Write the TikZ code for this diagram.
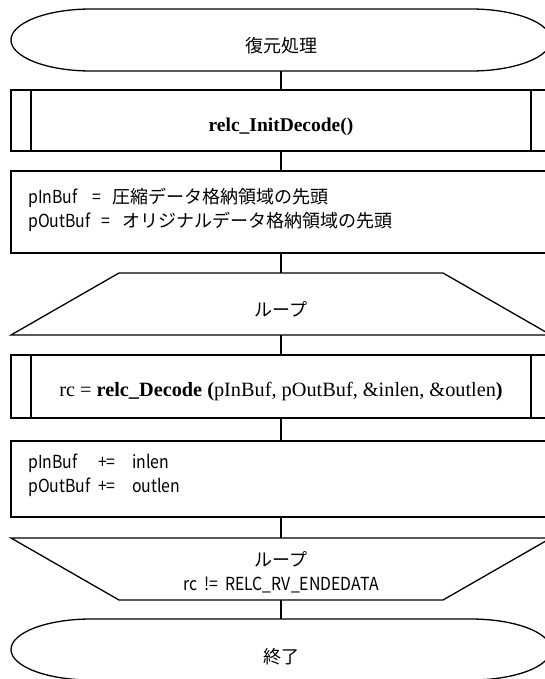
\documentclass[tikz,border=0pt]{standalone}
\usepackage{fontspec}
\setmainfont{Liberation Serif}
\newfontfamily\jpf{Noto Sans CJK JP}
\newfontfamily\jpl{Noto Sans CJK JP}[FakeStretch=0.88]
\usetikzlibrary{calc}
\begin{document}
\begin{tikzpicture}[x=1pt,y=-1pt,
  outl/.style={line width=1.3pt, line join=miter},
  frame/.style={minimum width=540pt, inner sep=0pt, outer sep=0pt, draw=none},
  boxed/.style={frame, draw, line width=1.3pt},
  gtext/.style={font=\jpf\fontsize{18}{24}\selectfont, inner sep=0pt},
  stext/.style={font=\fontsize{19.5}{22}\selectfont, inner sep=0pt},
  conn/.style={line width=1.3pt}]
\useasboundingbox (0,0) rectangle (545,679);
\clip (0,0) rectangle (545,679);

% start terminal
\node[frame, minimum height=62pt] (start) at (281,40) {};
\draw[outl] ($(start.north west)+(80,0)$) arc[start angle=-90, end angle=-270, x radius=80, y radius=31]
  -- ($(start.south east)+(-80,0)$) arc[start angle=90, end angle=-90, x radius=80, y radius=31] -- cycle;
\node[gtext] (startT) at ($(start.center)+(0,6)$) {復元処理};

% init (predefined process)
\node[boxed, minimum height=61pt] (init) at (281,120.5) {};
\draw[outl] ($(init.north west)+(20,0)$) -- ($(init.south west)+(20,0)$);
\draw[outl] ($(init.north east)+(-20,0)$) -- ($(init.south east)+(-20,0)$);
\node[stext] (initT) at ($(init.center)+(0,6)$) {\textbf{relc\_InitDecode()}};

% set pointers
\node[boxed, minimum height=82pt] (setp) at (281,212) {};
\node[gtext, anchor=north west, align=left] (setpT) at ($(setp.north west)+(17,17)$)
  {\makebox[64pt][l]{\jpl pInBuf}\makebox[20pt][l]{\jpl =}圧縮データ格納領域の先頭\\
   \makebox[73pt][l]{\jpl pOutBuf}\makebox[21pt][l]{\jpl =}オリジナルデータ格納領域の先頭};

% loop start
\node[frame, minimum height=62pt] (loopA) at (281,304) {};
\draw[outl] ($(loopA.north west)+(108,0)$) -- ($(loopA.north east)+(-108,0)$)
  -- (loopA.south east) -- (loopA.south west) -- cycle;
\node[gtext] (loopAT) at ($(loopA.center)+(0,5)$) {ループ};

% decode (predefined process)
\node[boxed, minimum height=63pt] (dec) at (281,386.5) {};
\draw[outl] ($(dec.north west)+(20,0)$) -- ($(dec.south west)+(20,0)$);
\draw[outl] ($(dec.north east)+(-20,0)$) -- ($(dec.south east)+(-20,0)$);
\node[stext, font=\fontsize{20.3}{22}\selectfont] (decT) at ($(dec.center)+(0,5)$)
  {rc = \textbf{relc\_Decode (}pInBuf, pOutBuf, \&inlen, \&outlen\textbf{)}};

% advance pointers
\node[boxed, minimum height=76pt] (adv) at (281,479) {};
\node[gtext, anchor=north west, align=left] (advT) at ($(adv.north west)+(17,13)$)
  {\jpl\makebox[70pt][l]{pInBuf}\makebox[34pt][l]{+=}inlen\\
   \jpl\makebox[70pt][l]{pOutBuf}\makebox[34pt][l]{+=}outlen};

% loop end
\node[frame, minimum height=62pt] (loopB) at (281,569) {};
\draw[outl] (loopB.north west) -- (loopB.north east)
  -- ($(loopB.south east)+(-108,0)$) -- ($(loopB.south west)+(108,0)$) -- cycle;
\node[gtext, align=center] (loopBT) at ($(loopB.center)+(0,3)$)
  {ループ\\{\jpl rc\hspace{7pt}!=\hspace{7pt}RELC\_RV\_ENDEDATA}};

% end terminal
\node[frame, minimum height=61pt] (stop) at (281,649.5) {};
\draw[outl] ($(stop.north west)+(80,0)$) arc[start angle=-90, end angle=-270, x radius=80, y radius=30.5]
  -- ($(stop.south east)+(-80,0)$) arc[start angle=90, end angle=-90, x radius=80, y radius=30.5] -- cycle;
\node[gtext] (stopT) at ($(stop.center)+(0,7)$) {終了};

% connectors
\draw[conn] (start.south) -- (init.north);
\draw[conn] (init.south) -- (setp.north);
\draw[conn] (setp.south) -- (loopA.north);
\draw[conn] (loopA.south) -- (dec.north);
\draw[conn] (dec.south) -- (adv.north);
\draw[conn] (adv.south) -- (loopB.north);
\draw[conn] (loopB.south) -- (stop.north);
\end{tikzpicture}
\end{document}
